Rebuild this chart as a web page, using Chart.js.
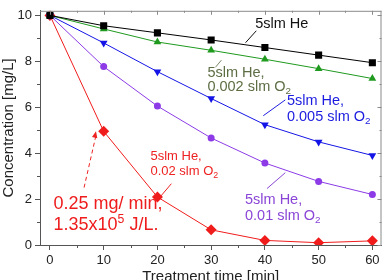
<!DOCTYPE html>
<html><head><meta charset="utf-8">
<script src="https://cdn.jsdelivr.net/npm/chart.js@4/dist/chart.umd.min.js"></script>
<style>html,body{margin:0;padding:0;background:#fff;overflow:hidden}</style>
</head><body>
<canvas id="c" width="387" height="280"></canvas>
<script>
// ---- data ----
const times = [0, 10, 20, 30, 40, 50, 60];
const he = [10, 9.55, 9.24, 8.93, 8.6, 8.27, 7.94];
const heO2_0002 = [10, 9.41, 8.84, 8.48, 8.09, 7.68, 7.25];
const heO2_0005 = [10, 8.8, 7.55, 6.38, 5.24, 4.49, 3.9];
const heO2_001 = [10, 7.77, 6.05, 4.66, 3.57, 2.77, 2.2];
const heO2_002 = [10, 4.95, 2.09, 0.66, 0.2, 0.1, 0.18];
const xTicks = [0, 10, 20, 30, 40, 50, 60];
const yTicks = [0, 2, 4, 6, 8, 10];
const xMinor = [5, 15, 25, 35, 45, 55];
const yMinor = [1, 3, 5, 7, 9];

const FONT = '"Liberation Sans", Arial, sans-serif';
const pts = arr => times.map((t, i) => ({x: t, y: arr[i]}));

// annotations (data coordinates)
const notes = [
  {x: 38.2, y: [9.63], lines: [[['5slm He','']]], color: '#111', size: 14.5},
  {x: 29.3, y: [7.48, 6.87], lines: [[['5slm He,','']], [['0.002 slm O',''],['2','sub']]], color: '#5d6e45', size: 14.5},
  {x: 44.1, y: [6.28, 5.56], lines: [[['5slm He,','']], [['0.005 slm O',''],['2','sub']]], color: '#1c1ce0', size: 14.5},
  {x: 36.3, y: [1.94, 1.26], lines: [[['5slm He,','']], [['0.01 slm O',''],['2','sub']]], color: '#8a46d6', size: 14.5},
  {x: 18.7, y: [3.87, 3.2], lines: [[['5slm He,','']], [['0.02 slm O',''],['2','sub']]], color: '#ee2222', size: 13},
  {x: 0.67, y: [1.8, 0.87], lines: [[['0.25 mg/ min,','']], [['1.35x10',''],['5','sup'],[' J/L.','']]], color: '#ee1c1c', size: 18}
];
const leaders = [
  {a: [36.4, 8.81], b: [38.4, 9.33], color: '#111'},
  {a: [31.9, 8.05], b: [30.8, 7.74], color: '#7a8a6a'},
  {a: [39.7, 5.63], b: [43.8, 6.32], color: '#1c1ce0'},
  {a: [43.8, 3.15], b: [40.4, 2.46], color: '#8a46d6'},
  {a: [20.6, 2.12], b: [22.6, 2.67], color: '#ee2222'}
];
const arrow = {a: [6.35, 2.5], b: [8.57, 4.95], color: '#ee2222'};

const overlay = {
  id: 'overlay',
  afterDatasetsDraw(chart) {
    const {ctx, scales: {x, y}, chartArea: ca} = chart;
    ctx.save();
    // frame top/right
    ctx.strokeStyle = '#8a8a8a'; ctx.lineWidth = 1;
    ctx.beginPath();
    ctx.moveTo(ca.left, ca.top + 0.5); ctx.lineTo(ca.right, ca.top + 0.5);
    ctx.moveTo(ca.right - 0.5, ca.top); ctx.lineTo(ca.right - 0.5, ca.bottom);
    ctx.stroke();
    // inward ticks top/right
    ctx.beginPath();
    xTicks.forEach(v => { const p = Math.round(x.getPixelForValue(v)) + 0.5; ctx.moveTo(p, ca.top); ctx.lineTo(p, ca.top + 4); });
    xMinor.forEach(v => { const p = Math.round(x.getPixelForValue(v)) + 0.5; ctx.moveTo(p, ca.top); ctx.lineTo(p, ca.top + 2); });
    yTicks.forEach(v => { const p = Math.round(y.getPixelForValue(v)) + 0.5; ctx.moveTo(ca.right, p); ctx.lineTo(ca.right - 4, p); });
    yMinor.forEach(v => { const p = Math.round(y.getPixelForValue(v)) + 0.5; ctx.moveTo(ca.right, p); ctx.lineTo(ca.right - 2, p); });
    ctx.stroke();
    // outward minor ticks left/bottom
    ctx.strokeStyle = '#555';
    ctx.beginPath();
    xMinor.forEach(v => { const p = Math.round(x.getPixelForValue(v)) + 0.5; ctx.moveTo(p, ca.bottom); ctx.lineTo(p, ca.bottom + 3); });
    yMinor.forEach(v => { const p = Math.round(y.getPixelForValue(v)) + 0.5; ctx.moveTo(ca.left, p); ctx.lineTo(ca.left - 3, p); });
    ctx.stroke();
    // leaders
    leaders.forEach(l => {
      ctx.strokeStyle = l.color; ctx.lineWidth = 1;
      ctx.beginPath();
      ctx.moveTo(x.getPixelForValue(l.a[0]), y.getPixelForValue(l.a[1]));
      ctx.lineTo(x.getPixelForValue(l.b[0]), y.getPixelForValue(l.b[1]));
      ctx.stroke();
    });
    // dashed arrow
    const ax = x.getPixelForValue(arrow.a[0]), ay = y.getPixelForValue(arrow.a[1]);
    const bx = x.getPixelForValue(arrow.b[0]), by = y.getPixelForValue(arrow.b[1]);
    ctx.strokeStyle = arrow.color; ctx.setLineDash([4, 3]);
    ctx.beginPath(); ctx.moveTo(ax, ay); ctx.lineTo(bx, by + 4); ctx.stroke();
    ctx.setLineDash([]);
    const ang = Math.atan2(by - ay, bx - ax);
    ctx.fillStyle = arrow.color;
    ctx.beginPath();
    ctx.moveTo(bx, by);
    ctx.lineTo(bx - 7 * Math.cos(ang - 0.4), by - 7 * Math.sin(ang - 0.4));
    ctx.lineTo(bx - 7 * Math.cos(ang + 0.4), by - 7 * Math.sin(ang + 0.4));
    ctx.closePath(); ctx.fill();
    // texts
    notes.forEach(n => {
      n.lines.forEach((segs, i) => {
        let cx = x.getPixelForValue(n.x);
        const cy = y.getPixelForValue(n.y[i]);
        ctx.fillStyle = n.color; ctx.textBaseline = 'middle'; ctx.textAlign = 'left';
        segs.forEach(([t, k]) => {
          const fs = k ? n.size * 0.68 : n.size;
          ctx.font = fs + 'px ' + FONT;
          const dy = k === 'sub' ? n.size * 0.3 : (k === 'sup' ? -n.size * 0.3 : 0);
          ctx.fillText(t, cx, cy + dy);
          cx += ctx.measureText(t).width;
        });
      });
    });
    ctx.restore();
  }
};

const mk = (label, arr, color, style, r, rot) => ({
  label, data: pts(arr), borderColor: color, backgroundColor: color,
  borderWidth: 1, pointStyle: style, pointRadius: r, pointRotation: rot || 0,
  pointBorderWidth: 0, tension: 0
});

new Chart(document.getElementById('c'), {
  type: 'line',
  data: {
    datasets: [
      mk('5slm He', he, '#000000', 'rect', 5),
      mk('5slm He, 0.002 slm O2', heO2_0002, '#1f9a1f', 'triangle', 4.5),
      mk('5slm He, 0.005 slm O2', heO2_0005, '#1414e6', 'triangle', 4.5, 180),
      mk('5slm He, 0.01 slm O2', heO2_001, '#8c3be6', 'circle', 3.5),
      mk('5slm He, 0.02 slm O2', heO2_002, '#f01c1c', 'rectRot', 5.5)
    ]
  },
  options: {
    responsive: false, animation: false, devicePixelRatio: 1,
    layout: {padding: {top: 7, right: 3, left: 0, bottom: 0}},
    plugins: {legend: {display: false}, tooltip: {enabled: false}},
    scales: {
      x: {
        type: 'linear', min: -1.85, max: 61.7,
        afterBuildTicks: s => { s.ticks = xTicks.map(v => ({value: v})); },
        afterFit: s => { s.height = 35; },
        grid: {drawOnChartArea: false, drawTicks: true, tickLength: 5, color: '#555'},
        border: {display: true, color: '#555', width: 1},
        ticks: {color: '#222', font: {size: 13, family: FONT}, padding: 3, maxRotation: 0},
        title: {display: true, text: 'Treatment time [min]', color: '#222', font: {size: 15, family: FONT}, padding: {top: -6, bottom: -6}}
      },
      y: {
        type: 'linear', min: 0, max: 10.2,
        afterBuildTicks: s => { s.ticks = yTicks.map(v => ({value: v})); },
        afterFit: s => { s.width = 40; },
        grid: {drawOnChartArea: false, drawTicks: true, tickLength: 5, color: '#555'},
        border: {display: true, color: '#555', width: 1},
        ticks: {color: '#222', font: {size: 13, family: FONT}, padding: 3},
        title: {display: true, text: 'Concentration [mg/L]', color: '#222', font: {size: 15, family: FONT}, padding: 0}
      }
    }
  },
  plugins: [overlay]
});
</script>
</body></html>
